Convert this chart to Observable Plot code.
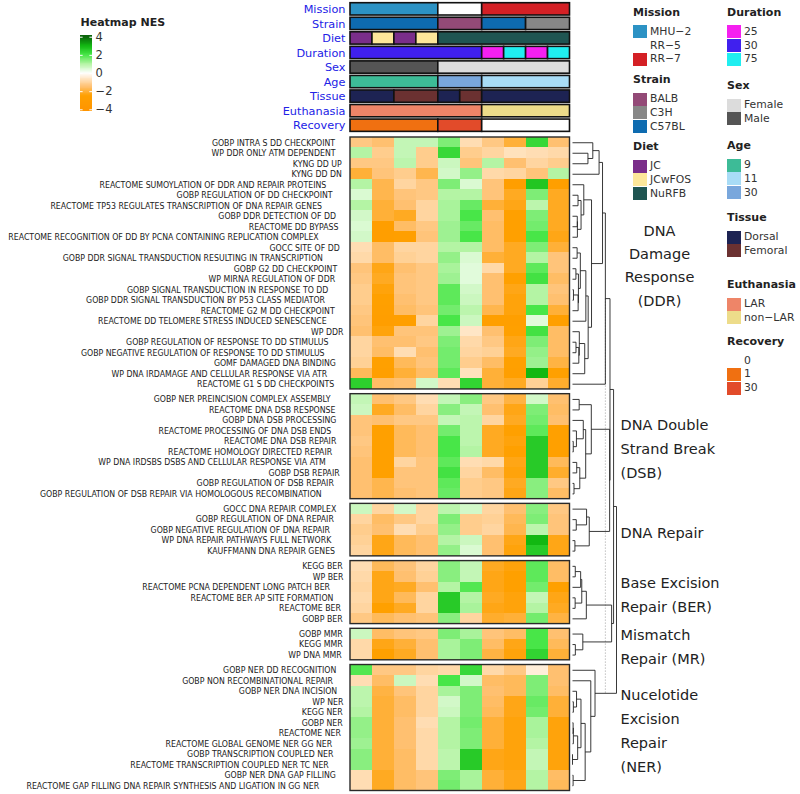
<!DOCTYPE html>
<html><head><meta charset="utf-8">
<script src="https://cdn.jsdelivr.net/npm/d3@7"></script>
<script src="https://cdn.jsdelivr.net/npm/@observablehq/plot@0.6"></script>
<style>
body{margin:0;background:#fff;}
#root{position:relative;width:800px;height:794px;overflow:hidden;font-family:"DejaVu Sans",sans-serif;color:#222;}
#root svg{position:absolute;left:0;top:0;}
.lg{position:absolute;white-space:nowrap;font-size:10.8px;line-height:14px;color:#333;}
.lt{position:absolute;white-space:nowrap;font-size:11px;font-weight:bold;line-height:14px;color:#222;}
.sw{position:absolute;width:14px;height:13px;}
</style></head><body><div id="root"></div>
<script>
// ---------------- DATA ----------------
const columnIds = [1,2,3,4,5,6,7,8,9,10];

const mission   = ["MHU−2","MHU−2","MHU−2","MHU−2","RR−5","RR−5","RR−7","RR−7","RR−7","RR−7"];
const strain    = ["C57BL","C57BL","C57BL","C57BL","BALB","BALB","C57BL","C57BL","C3H","C3H"];
const diet      = ["JC","JCwFOS","JC","JCwFOS","NuRFB","NuRFB","NuRFB","NuRFB","NuRFB","NuRFB"];
const duration  = ["30","30","30","30","30","30","25","75","25","75"];
const sex       = ["Male","Male","Male","Male","Female","Female","Female","Female","Female","Female"];
const age       = ["9","9","9","9","30","30","11","11","11","11"];
const tissue    = ["Dorsal","Dorsal","Femoral","Femoral","Dorsal","Femoral","Dorsal","Dorsal","Dorsal","Dorsal"];
const euthanasia= ["LAR","LAR","LAR","LAR","LAR","LAR","non−LAR","non−LAR","non−LAR","non−LAR"];
const recovery  = ["1","1","1","1","30","30","0","0","0","0"];

const annotTracks = ["Mission","Strain","Diet","Duration","Sex","Age","Tissue","Euthanasia","Recovery"];

const missionLevels = ["MHU−2","RR−5","RR−7"];
const strainLevels = ["BALB","C3H","C57BL"];
const dietLevels = ["JC","JCwFOS","NuRFB"];
const durationLevels = ["25","30","75"];
const sexLevels = ["Female","Male"];
const ageLevels = ["9","11","30"];
const tissueLevels = ["Dorsal","Femoral"];
const euthanasiaLevels = ["LAR","non−LAR"];
const recoveryLevels = ["0","1","30"];

const missionColors = ["#2c92c4","#ffffff","#d42025"];
const strainColors = ["#934a77","#878787","#0e6bb0"];
const dietColors = ["#7a2e8a","#fde79a","#1f5552"];
const durationColors = ["#f520f0","#4020ee","#20eef0"];
const sexColors = ["#dcdcdc","#555555"];
const ageColors = ["#3dbb97","#a8dcf6","#79a7dc"];
const tissueColors = ["#1d2353","#6b3131"];
const euthanasiaColors = ["#ee8568","#eddc8a"];
const recoveryColors = ["#ffffff","#f07011","#e24b2a"];

const groupTitles = ["DNA\nDamage\nResponse\n(DDR)","DNA Double\nStrand Break\n(DSB)","DNA Repair","Base Excision\nRepair (BER)","Mismatch\nRepair (MR)","Nucelotide\nExcision\nRepair\n(NER)"];

const ddrLabels = ["GOBP INTRA S DD CHECKPOINT","WP DDR ONLY ATM DEPENDENT","KYNG DD UP","KYNG DD DN","REACTOME SUMOYLATION OF DDR AND REPAIR PROTEINS","GOBP REGULATION OF DD CHECKPOINT","REACTOME TP53 REGULATES TRANSCRIPTION OF DNA REPAIR GENES","GOBP DDR DETECTION OF DD","REACTOME DD BYPASS","REACTOME RECOGNITION OF DD BY PCNA CONTAINING REPLICATION COMPLEX","GOCC SITE OF DD","GOBP DDR SIGNAL TRANSDUCTION RESULTING IN TRANSCRIPTION","GOBP G2 DD CHECKPOINT","WP MIRNA REGULATION OF DDR","GOBP SIGNAL TRANSDUCTION IN RESPONSE TO DD","GOBP DDR SIGNAL TRANSDUCTION BY P53 CLASS MEDIATOR","REACTOME G2 M DD CHECKPOINT","REACTOME DD TELOMERE STRESS INDUCED SENESCENCE","WP DDR","GOBP REGULATION OF RESPONSE TO DD STIMULUS","GOBP NEGATIVE REGULATION OF RESPONSE TO DD STIMULUS","GOMF DAMAGED DNA BINDING","WP DNA IRDAMAGE AND CELLULAR RESPONSE VIA ATR","REACTOME G1 S DD CHECKPOINTS"];
const ddrNES = [
[-1.3,-1.5,0.8,0.8,1.5,-0.8,-1.3,-2.0,2.3,-1.5],
[1.0,-1.2,0.8,-1.2,2.3,-1.2,-1.0,-0.7,-0.8,-0.9],
[-1.3,-1.3,0.9,-1.2,0.7,-1.4,1.0,-1.5,-1.0,-1.2],
[-2.0,-1.4,-1.2,-1.8,0.6,1.3,-0.9,-1.0,-1.4,1.0],
[1.0,-1.8,-1.0,-1.3,1.5,0.5,-1.4,-2.8,2.7,-2.6],
[0.5,-1.8,-1.4,-1.3,1.0,1.0,-1.4,-2.2,1.5,-2.2],
[1.0,-2.0,-1.5,-1.0,1.1,1.7,-2.0,-2.3,0.9,-2.2],
[0.6,-2.0,-2.2,-1.0,1.1,2.0,-1.5,-2.5,1.5,-2.2],
[0.5,-2.8,-1.6,-1.3,1.2,1.7,-1.6,-2.5,1.6,-2.2],
[0.6,-2.8,-2.6,-1.4,1.2,2.0,-1.6,-2.5,2.0,-2.3],
[-0.8,-1.6,-1.0,-1.0,1.0,1.0,-1.6,-2.2,1.5,-2.0],
[-0.9,-1.6,-1.1,-1.0,1.3,0.5,-2.0,-2.2,1.0,-1.4],
[-1.4,-2.3,-1.5,-1.3,1.1,0.4,-0.9,-2.2,1.8,-1.4],
[-1.3,-2.2,-1.4,-1.3,1.2,0.4,-1.5,-2.5,2.1,-1.6],
[-1.2,-2.4,-1.4,-1.3,1.8,0.6,-1.5,-2.3,1.0,-1.4],
[-1.2,-2.5,-1.5,-1.3,1.8,0.7,-1.5,-2.4,1.0,-1.5],
[-1.3,-2.6,-1.6,-1.4,1.6,0.9,-1.8,-2.4,2.0,-2.0],
[-1.4,-2.8,-2.7,-1.0,2.0,0.7,-2.7,-2.6,0.4,-2.6],
[-1.5,-2.4,-1.4,-1.4,1.2,-0.6,-1.5,-2.5,2.1,-1.6],
[-1.0,-1.5,-1.5,-1.3,1.5,-0.9,-1.3,-2.3,1.5,-1.6],
[-1.0,-1.6,-0.8,-1.5,1.6,-1.0,-1.1,-2.2,1.3,-1.6],
[-1.1,-2.5,-1.7,-1.4,1.6,-1.2,-1.6,-2.5,1.2,-1.9],
[-1.7,-2.7,-2.0,-1.6,1.8,-0.7,-2.0,-2.6,3.0,-2.5],
[2.5,-1.6,-1.5,0.6,-0.8,2.4,-2.0,-2.2,-1.1,-2.1]];

const dsbLabels = ["GOBP NER PREINCISION COMPLEX ASSEMBLY","REACTOME DNA DSB RESPONSE","GOBP DNA DSB PROCESSING","REACTOME PROCESSING OF DNA DSB ENDS","REACTOME DNA DSB REPAIR","REACTOME HOMOLOGY DIRECTED REPAIR","WP DNA IRDSBS DSBS AND CELLULAR RESPONSE VIA ATM","GOBP DSB REPAIR","GOBP REGULATION OF DSB REPAIR","GOBP REGULATION OF DSB REPAIR VIA HOMOLOGOUS RECOMBINATION"];
const dsbNES = [
[0.8,-1.5,-1.3,-0.8,0.8,1.4,-1.3,-1.9,0.6,-1.5],
[0.7,-2.2,-1.6,-1.0,1.4,0.8,-1.5,-2.3,1.5,-1.6],
[-1.4,-1.5,-1.3,-1.3,0.8,0.9,-1.0,-2.2,1.6,-1.5],
[-1.4,-2.5,-1.7,-1.5,1.6,0.9,-2.2,-2.5,1.8,-2.5],
[-1.3,-2.5,-1.7,-1.5,2.0,0.9,-2.2,-2.4,2.6,-2.5],
[-1.4,-2.5,-1.7,-1.5,2.0,1.0,-2.2,-2.5,2.6,-2.5],
[-1.5,-2.5,-1.0,-1.4,1.8,-0.8,-0.9,-2.3,2.6,-1.7],
[-1.5,-2.5,-1.4,-1.4,2.1,-1.0,-1.6,-2.4,2.6,-2.1],
[-1.5,-1.8,-1.4,-1.4,1.8,-1.2,-1.3,-2.2,1.4,-1.3],
[-1.5,-1.8,-1.5,-1.4,1.7,-1.2,-1.3,-2.3,1.4,-1.6]];

const repairLabels = ["GOCC DNA REPAIR COMPLEX","GOBP REGULATION OF DNA REPAIR","GOBP NEGATIVE REGULATION OF DNA REPAIR","WP DNA REPAIR PATHWAYS FULL NETWORK","KAUFFMANN DNA REPAIR GENES"];
const repairNES = [
[0.7,-1.0,0.6,-1.0,0.9,0.6,-1.0,-1.5,1.4,-1.3],
[-1.0,-1.6,-1.3,-1.0,1.5,-1.2,-1.1,-1.7,1.5,-1.4],
[-1.2,-1.5,-0.8,-1.2,1.3,-1.2,-1.0,-1.8,0.9,-1.4],
[-1.1,-2.3,-1.7,-1.5,1.0,0.7,-1.5,-2.3,3.0,-2.3],
[-1.0,-2.3,-1.7,-1.5,1.3,0.5,-1.5,-2.4,2.6,-2.3]];

const berLabels = ["KEGG BER","WP BER","REACTOME PCNA DEPENDENT LONG PATCH BER","REACTOME BER AP SITE FORMATION","REACTOME BER","GOBP BER"];
const berNES = [
[-0.8,-1.7,-1.4,-1.0,1.4,0.8,-2.2,-2.4,1.8,-1.6],
[-0.9,-2.3,-1.5,-1.1,1.4,0.8,-2.3,-2.5,1.8,-1.6],
[-1.0,-2.3,-2.2,-1.5,1.0,1.9,-2.3,-2.5,1.6,-2.5],
[-0.9,-2.3,-1.7,-1.0,2.6,1.0,-2.2,-2.4,0.8,-2.3],
[-1.0,-2.5,-2.2,-1.0,2.6,1.1,-2.3,-2.4,1.0,-2.2],
[-1.3,-1.7,-1.5,-1.4,1.4,-1.0,-2.1,-2.0,1.6,-1.9]];

const mmrLabels = ["GOBP MMR","KEGG MMR","WP DNA MMR"];
const mmrNES = [
[0.7,-1.6,-1.4,-1.3,1.5,1.1,-1.4,-1.6,2.0,-1.5],
[-0.9,-2.3,-2.0,-1.5,1.1,1.5,-1.6,-2.3,2.0,-1.7],
[-0.9,-2.5,-2.2,-1.5,1.1,1.5,-1.9,-2.4,2.4,-2.0]];

const nerLabels = ["GOBP NER DD RECOGNITION","GOBP NON RECOMBINATIONAL REPAIR","GOBP NER DNA INCISION","WP NER","KEGG NER","GOBP NER","REACTOME NER","REACTOME GLOBAL GENOME NER GG NER","GOBP TRANSCRIPTION COUPLED NER","REACTOME TRANSCRIPTION COUPLED NER TC NER","GOBP NER DNA GAP FILLING","REACTOME GAP FILLING DNA REPAIR SYNTHESIS AND LIGATION IN GG NER"];
const nerNES = [
[1.9,-1.3,-1.3,-1.0,-0.9,2.3,-0.9,-1.3,-0.4,-1.5],
[-0.8,-1.6,0.7,-0.8,2.0,0.6,-1.6,-1.7,1.5,-1.5],
[0.9,-1.9,-1.4,-1.0,1.1,1.5,-1.5,-1.7,1.5,-1.6],
[0.9,-2.0,-1.6,-1.0,0.6,1.5,-1.6,-2.3,1.7,-2.0],
[1.0,-2.0,-1.6,-1.0,0.7,1.5,-1.7,-2.3,1.6,-2.0],
[1.3,-2.0,-1.5,-0.8,1.0,1.6,-2.0,-2.4,1.1,-2.4],
[1.3,-2.0,-1.5,-0.9,1.0,1.5,-2.0,-2.4,1.1,-2.4],
[1.2,-2.0,-1.5,-0.9,1.0,1.5,-2.0,-2.4,1.0,-2.4],
[1.4,-2.0,-1.6,-0.9,0.9,2.6,-2.3,-2.4,0.8,-2.4],
[1.4,-2.0,-1.6,-0.9,0.9,2.6,-2.3,-2.4,0.8,-2.4],
[-0.8,-2.2,-1.6,-1.4,1.5,1.1,-2.0,-2.3,1.0,-1.6],
[-0.8,-2.2,-1.6,-1.4,1.6,1.1,-2.0,-2.3,1.0,-1.7]];

const nesTicks = [4,2,0,-2,-4];
const nesDomain = [-4,-2.5,-1.5,0,1,2,3,4];
const nesColors = ["#ff9500","#ffa000","#ffc070","#ffffff","#b4f4a4","#48e648","#12b812","#0a640a"];

// ---------------- LAYOUT ----------------
const W = 800, H = 794;
const HM = {left:350, right:569.5, top:137, bottom:790.5};
const ANN = {top:2.7, height:136, bottom:2.4, barFrac:0.846};
const GAP = 0.45;
const DEND = {left:572, right:616};
const FONT = "DejaVu Sans";
const LABEL_FONT = "'DejaVu Sans Condensed', 'DejaVu Sans', sans-serif";
const colPx = (HM.right - HM.left) / columnIds.length;

const groups = [
  {labels:ddrLabels, nes:ddrNES},{labels:dsbLabels, nes:dsbNES},{labels:repairLabels, nes:repairNES},
  {labels:berLabels, nes:berNES},{labels:mmrLabels, nes:mmrNES},{labels:nerLabels, nes:nerNES}];

const rootEl = document.getElementById("root");
const nesColor = {type:"linear", domain:nesDomain, range:nesColors, clamp:true};

// rows & cells
const cells = [], rows = [], boxes = [];
let r = 0;
groups.forEach((g, gi) => {
  const start = r + gi*GAP;
  g.labels.forEach((lab, i) => {
    const y0 = r + gi*GAP;
    rows.push({label:lab, y:y0+0.5, group:gi, vec:g.nes[i]});
    g.nes[i].forEach((v, c) => cells.push({x1:c, x2:c+1, y1:y0, y2:y0+1, v}));
    r++;
  });
  boxes.push({y1:start, y2:r + gi*GAP, x1:0, x2:columnIds.length});
});
const yMax = r + (groups.length-1)*GAP;

// ---------------- ANNOTATION ----------------
const annotValues = [mission,strain,diet,duration,sex,age,tissue,euthanasia,recovery];
const annotLevels = [missionLevels,strainLevels,dietLevels,durationLevels,sexLevels,ageLevels,tissueLevels,euthanasiaLevels,recoveryLevels];
const annotColors = [missionColors,strainColors,dietColors,durationColors,sexColors,ageColors,tissueColors,euthanasiaColors,recoveryColors];
const keyDomain = [], keyRange = [];
annotTracks.forEach((t, ti) => annotLevels[ti].forEach((lv, k) => {keyDomain.push(t+"|"+lv); keyRange.push(annotColors[ti][k]);}));
const runs = [];
annotValues.forEach((vals, ti) => {
  let s = 0;
  for (let c = 1; c <= vals.length; c++) {
    if (c === vals.length || vals[c] !== vals[s]) {
      runs.push({x1:s, x2:c, y1:ti, y2:ti+ANN.barFrac, key:annotTracks[ti]+"|"+vals[s]});
      s = c;
    }
  }
});

const annPlot = Plot.plot({
  width:W, height:ANN.height, marginLeft:HM.left, marginRight:W-HM.right, marginTop:ANN.top, marginBottom:ANN.bottom,
  style:{background:"transparent", fontFamily:FONT},
  x:{domain:[0,columnIds.length], axis:null},
  y:{domain:[0,annotTracks.length], axis:null, reverse:true},
  color:{type:"ordinal", domain:keyDomain, range:keyRange},
  marks:[
    Plot.rect(runs, {x1:"x1", x2:"x2", y1:"y1", y2:"y2", fill:"key", stroke:"#111", strokeWidth:1.6}),
    Plot.text(annotTracks, {x:0, y:(d,i)=>i+ANN.barFrac/2, text:d=>d, textAnchor:"end", dx:-5, fill:"#2222e6", fontSize:11.3})
  ]
});
rootEl.appendChild(annPlot);

// ---------------- HEATMAP ----------------
const hmPlot = Plot.plot({
  width:W, height:H, marginLeft:HM.left, marginRight:W-HM.right, marginTop:HM.top, marginBottom:H-HM.bottom,
  style:{background:"transparent", fontFamily:FONT},
  x:{domain:[0,columnIds.length], axis:null},
  y:{domain:[0,yMax], axis:null, reverse:true},
  color:nesColor,
  marks:[
    Plot.rect(cells, {x1:"x1", x2:"x2", y1:"y1", y2:"y2", fill:"v", shapeRendering:"crispEdges"}),
    Plot.rect(boxes, {x1:"x1", x2:"x2", y1:"y1", y2:"y2", fill:"none", stroke:"#2a2a2a", strokeWidth:1.4}),
    Plot.text(rows, {x:d=>-(4.5 + 0.42*d.label.length)/colPx, y:"y", text:"label", textAnchor:"end", fontSize:8.7, fontFamily:LABEL_FONT, fill:"#222"})
  ]
});
rootEl.appendChild(hmPlot);

// ---------------- DENDROGRAM ----------------
function dist(a,b){let s=0;for(let i=0;i<a.length;i++){const d=a[i]-b[i];s+=d*d;}return Math.sqrt(s);}
const complete = (A,B)=>{let m=0;for(const a of A.members)for(const b of B.members)m=Math.max(m,dist(a,b));return m;};
function buildTree(items, base){
  let nodes = items.map(d=>({...d}));
  const segs = [];
  while (nodes.length > 1) {
    let bi = 0, bd = Infinity;
    for (let i = 0; i < nodes.length-1; i++) { const d = complete(nodes[i], nodes[i+1]); if (d < bd) {bd = d; bi = i;} }
    const A = nodes[bi], B = nodes[bi+1];
    const h = Math.max(base + bd, A.h, B.h);
    segs.push({x1:A.h,y1:A.y,x2:h,y2:A.y},{x1:B.h,y1:B.y,x2:h,y2:B.y},{x1:h,y1:A.y,x2:h,y2:B.y});
    nodes.splice(bi, 2, {members:A.members.concat(B.members), y:(A.y+B.y)/2, h});
  }
  return {root:nodes[0], segs};
}
let dendSegs = [];
const groupRoots = groups.map((g, gi) => {
  const leaves = rows.filter(d=>d.group===gi).map(d=>({members:[d.vec], y:d.y, h:0}));
  const t = buildTree(leaves, 0);
  dendSegs = dendSegs.concat(t.segs);
  const mean = columnIds.map((_, c) => d3.mean(leaves, l => l.members[0][c]));
  return {y:t.root.y, h:t.root.h, mean};
});
const baseH = d3.max(groupRoots, d=>d.h);
const topTree = buildTree(groupRoots.map(g=>({members:[g.mean], y:g.y, h:g.h})), baseH);
dendSegs = dendSegs.concat(topTree.segs);
const hRoot = topTree.root.h;
const dotted = [{x:baseH, y1:groupRoots[0].y, y2:groupRoots[groupRoots.length-1].y}];

const labelData = groupRoots.map((g, gi) => ({text:groupTitles[gi], y:(boxes[gi].y1+boxes[gi].y2)/2, gi}));

const dendPlot = Plot.plot({
  width:W, height:H, marginLeft:DEND.left, marginRight:W-DEND.right, marginTop:HM.top, marginBottom:H-HM.bottom,
  style:{background:"transparent", fontFamily:FONT},
  x:{domain:[0,hRoot], axis:null},
  y:{domain:[0,yMax], axis:null, reverse:true},
  marks:[
    Plot.link(dotted, {x1:"x", x2:"x", y1:"y1", y2:"y2", stroke:"#888", strokeWidth:0.8, strokeDasharray:"1,2"}),
    Plot.link(dendSegs, {x1:"x1", y1:"y1", x2:"x2", y2:"y2", stroke:"#222", strokeWidth:0.9}),
    Plot.text(labelData.filter(d=>d.gi===0), {x:hRoot, y:"y", text:"text", textAnchor:"middle", dx:43, fontSize:14.5, lineHeight:1.6, fill:"#222"}),
    Plot.text(labelData.filter(d=>d.gi>0), {x:hRoot, y:"y", text:"text", textAnchor:"start", dx:4, fontSize:14.5, lineHeight:1.65, fill:"#222"})
  ]
});
rootEl.appendChild(dendPlot);

// ---------------- NES LEGEND ----------------
const legVals = d3.range(-4.2, 4.2, 0.05);
const legPlot = Plot.plot({
  width:200, height:130, marginLeft:80, marginRight:108, marginTop:34.9, marginBottom:18.9,
  style:{background:"transparent", fontFamily:FONT, overflow:"visible"},
  x:{domain:[0,1], axis:null},
  y:{domain:[-4.2,4.2], axis:null},
  color:nesColor,
  marks:[
    Plot.rect(legVals, {x1:0, x2:1, y1:d=>d, y2:d=>d+0.05, fill:d=>d+0.025, shapeRendering:"crispEdges"}),
    Plot.ruleY(nesTicks, {x1:0, x2:0.22, stroke:"white", strokeWidth:1}),
    Plot.ruleY(nesTicks, {x1:0.78, x2:1, stroke:"white", strokeWidth:1}),
    Plot.text(nesTicks, {x:1, y:d=>d, text:d=>d<0?"−"+Math.abs(d):String(d), textAnchor:"start", dx:3, fontSize:11.5, fill:"#333"}),
    Plot.text(["Heatmap NES"], {frameAnchor:"top-left", text:d=>d, textAnchor:"start", lineAnchor:"middle", dy:-13, fontSize:11, fontWeight:"bold", fill:"#222"})
  ]
});
rootEl.appendChild(legPlot);

// ---------------- ANNOTATION LEGENDS (HTML) ----------------
const legendLayout = {Mission:[633,12.7], Strain:[633,80], Diet:[633,147], Duration:[727,12.7], Sex:[727,86], Age:[727,146], Tissue:[727,218], Euthanasia:[727,285], Recovery:[727,341.5]};
annotTracks.forEach((t, ti) => {
  const [lx, ty] = legendLayout[t];
  const title = document.createElement("div");
  title.className = "lt"; title.textContent = t;
  title.style.left = lx+"px"; title.style.top = (ty-7)+"px";
  rootEl.appendChild(title);
  annotLevels[ti].forEach((lv, k) => {
    const cy = ty + 19 + k*13.8;
    const sw = document.createElement("div");
    sw.className = "sw"; sw.style.left = lx+"px"; sw.style.top = (cy-6.5)+"px";
    sw.style.background = annotColors[ti][k];
    rootEl.appendChild(sw);
    const lb = document.createElement("div");
    lb.className = "lg"; lb.textContent = lv;
    lb.style.left = (lx+17)+"px"; lb.style.top = (cy-7)+"px";
    rootEl.appendChild(lb);
  });
});
</script>
</body></html>
